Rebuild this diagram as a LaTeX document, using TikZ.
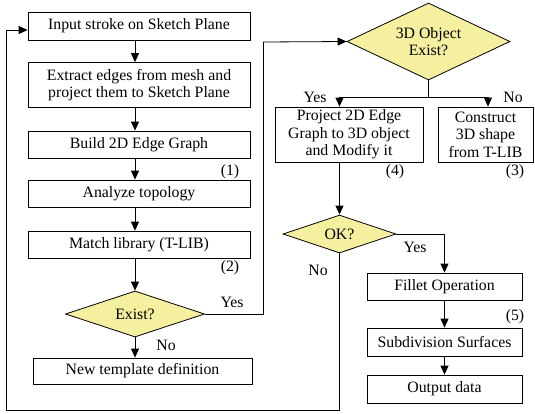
\documentclass[tikz,border=0pt]{standalone}
\usepackage{fontspec}
\setmainfont{Liberation Serif}
\usetikzlibrary{arrows.meta,shapes.geometric}
\definecolor{decfill}{RGB}{245,240,160}
\tikzset{
  procbox/.style={draw, line width=0.8pt, rectangle, align=center, inner sep=0pt},
  decision/.style={draw, line width=0.8pt, diamond, fill=decfill, align=center, inner sep=0pt, aspect=3},
  flow/.style={-{Triangle[length=9pt,width=8pt]}, line width=0.8pt},
  plain/.style={line width=0.8pt},
}
\begin{document}
\begin{tikzpicture}[x=1pt,y=-1pt,font=\fontsize{15.8}{17.5}\selectfont]
\useasboundingbox (0,0) rectangle (535,413);

% left column
\node[procbox, minimum width=222pt, minimum height=28pt] (input) at (139,26) {Input stroke on Sketch Plane};
\node[procbox, minimum width=222pt, minimum height=45pt] (extract) at (139,85) {Extract edges from mesh and\\project them to Sketch Plane};
\node[procbox, minimum width=222pt, minimum height=27pt] (build) at (139,144.5) {Build 2D Edge Graph};
\node[procbox, minimum width=222pt, minimum height=27pt] (analyze) at (139,193.5) {Analyze topology};
\node[procbox, minimum width=222pt, minimum height=27pt] (match) at (139,244.5) {Match library (T-LIB)};
\node[decision, minimum width=139pt, minimum height=46pt] (exist) at (135,314) {Exist?};
\node[procbox, minimum width=219pt, minimum height=26pt] (newtpl) at (142.5,371) {New template definition};

\node (n1) at (230,172) {(1)};
\node (n2) at (230,268) {(2)};

% right column
\node[decision, minimum width=163pt, minimum height=77pt] (obj) at (428.5,41.5) {3D Object\\Exist?};
\node[procbox, minimum width=148pt, minimum height=55pt] (project) at (349,134.5) {Project 2D Edge\\Graph to 3D object\\and Modify it};
\node[procbox, minimum width=95pt, minimum height=55pt] (construct) at (485.5,134.5) {Construct\\3D shape\\from T-LIB};
\node (n4) at (395,172) {(4)};
\node (n3) at (515,172) {(3)};
\node[decision, minimum width=113pt, minimum height=38pt] (ok) at (339.5,234) {OK?};
\node[procbox, minimum width=155pt, minimum height=27pt] (fillet) at (444.5,286.5) {Fillet Operation};
\node[procbox, minimum width=155pt, minimum height=28pt] (subdiv) at (444.5,342) {Subdivision Surfaces};
\node[procbox, minimum width=155pt, minimum height=28pt] (output) at (444.5,389) {Output data};
\node (n5) at (515,317) {(5)};

\coordinate (leftx) at (135,0);
\coordinate (split) at (obj.south |- 0,97);
\coordinate (yesr) at (ok.north |- 0,97);
\coordinate (nor) at (488,97);
\coordinate (projout) at (ok.north |- project.south);
\coordinate (loopa) at (ok.south |- 0,410);
\coordinate (loopb) at (6,410);
\coordinate (loopc) at (6,30);
\coordinate (exr) at (263,314);
\coordinate (ext) at (263,42);
\coordinate (okr) at (fillet.north |- ok.east);

% main chain
\draw[flow] (leftx |- input.south) -- (leftx |- extract.north);
\draw[flow] (leftx |- extract.south) -- (leftx |- build.north);
\draw[flow] (leftx |- build.south) -- (leftx |- analyze.north);
\draw[flow] (leftx |- analyze.south) -- (leftx |- match.north);
\draw[flow] (leftx |- match.south) -- (exist.north);
\draw[flow] (exist.south) -- (leftx |- newtpl.north);
\draw[plain] (exist.east) -- (exr) -- (ext);
\draw[flow] (ext) -- (obj.west);
\draw[plain] (obj.south) -- (split);
\draw[plain] (yesr) -- (nor);
\draw[flow] (yesr) -- (yesr |- project.north);
\draw[flow] (nor) -- (nor |- construct.north);
\draw[flow] (projout) -- (ok.north);
\draw[plain] (ok.east) -- (okr);
\draw[flow] (okr) -- (fillet.north);
\draw[flow] (fillet) -- (subdiv);
\draw[flow] (subdiv) -- (output);
\draw[flow] (ok.south) -- (loopa) -- (loopb) -- (loopc) -- (loopc -| input.west);

% labels
\node (lyes1) at (232,302) {Yes};
\node (lno1) at (166,345) {No};
\node (lyes2) at (315,97) {Yes};
\node (lno2) at (513,97) {No};
\node (lyes3) at (415,247) {Yes};
\node (lno3) at (318,270) {No};
\end{tikzpicture}
\end{document}
